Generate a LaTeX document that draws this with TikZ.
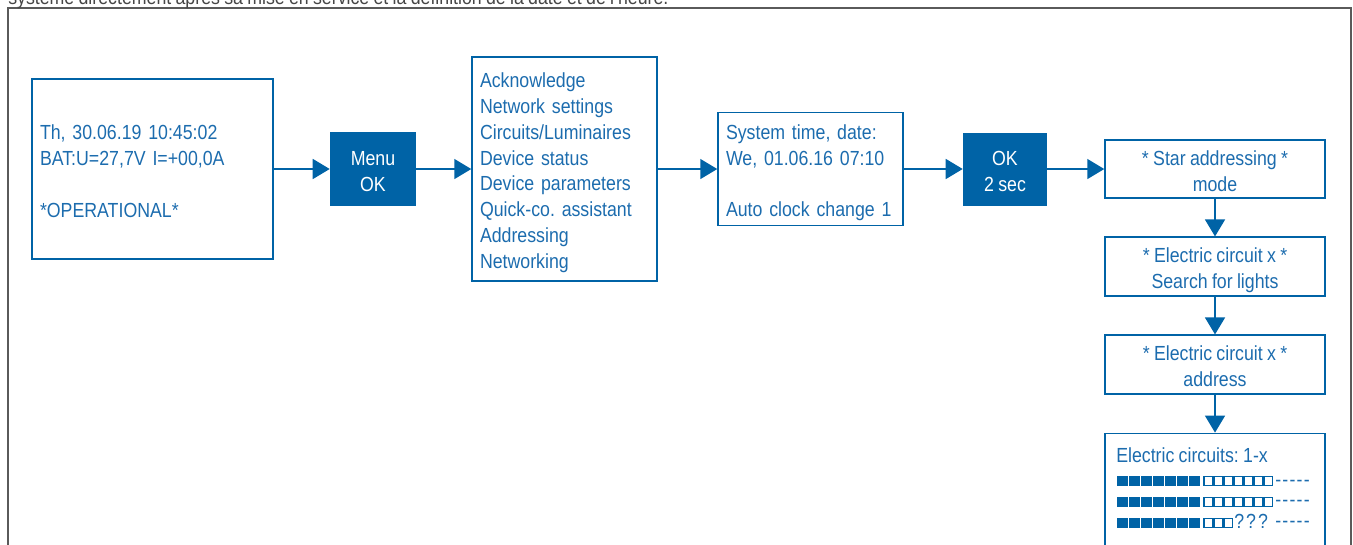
\documentclass[tikz,border=0pt]{standalone}
\usepackage{fontspec}
\setmainfont{Liberation Sans}[FakeStretch=0.87,WordSpace=0.87]
\usetikzlibrary{arrows.meta}
\definecolor{bl}{RGB}{0,99,166}
\definecolor{bltxt}{RGB}{28,108,174}
\definecolor{framegray}{RGB}{90,90,90}
\definecolor{toptxt}{RGB}{70,70,70}
\newcommand\lnst{\rule[-2.65pt]{0pt}{19.3pt}}
\newcommand\diagfont{\fontsize{15.3pt}{19.35pt}\selectfont\frenchspacing\lineskiplimit -100pt\relax}
\begin{document}
\begin{tikzpicture}[x=0.75pt,y=-0.75pt,
  every node/.style={font=\diagfont},
  txtbox/.style={draw=bl, line width=1.1pt, text=bltxt, align=left, inner xsep=6pt, inner ysep=0pt},
  flowbox/.style={draw=bl, line width=1.1pt, text=bltxt, align=center, inner sep=0pt, minimum width=165pt, minimum height=44pt},
  keybox/.style={fill=bl, text=white, align=center, inner sep=0pt},
  arr/.style={draw=bl, line width=1.1pt, -{Triangle[length=12.75pt,width=15pt]}},
  sqfull/.style={fill=bl},
  sqopen/.style={draw=bl, line width=0.8pt},
  framestyle/.style={draw=framegray, line width=0.8pt}]
\useasboundingbox (0,0) rectangle (1353,544);
% outer frame and cut-off caption
\draw[framestyle] (8,580) -- (8,8) -- (1351,8) -- (1351,580);
\node[anchor=base west, inner sep=0pt, text=toptxt] (caption) at (8,4) {système directement après sa mise en service et la définition de la date et de l’heure.};
% boxes
\node[txtbox, text width=168.75pt, minimum height=135pt] (status) at (152.5,169)
  {\lnst Th, 30.06.19 10:45:02\\\lnst BAT:U=27,7V I=+00,0A\\[19.35pt]\lnst *OPERATIONAL*};
\node[keybox, minimum width=64.5pt, minimum height=55.5pt] (menuok) at (373,169) {\lnst Menu\\\lnst OK};
\node[txtbox, text width=126.75pt, minimum height=168pt] (menu) at (564.5,169)
  {\lnst Acknowledge\\\lnst Network settings\\\lnst Circuits/Luminaires\\\lnst Device status\\\lnst Device parameters\\\lnst Quick-co. assistant\\\lnst Addressing\\\lnst Networking};
\node[txtbox, text width=126.75pt, minimum height=84.75pt] (systime) at (810.5,169)
  {\lnst System time, date:\\\lnst We, 01.06.16 07:10\\[19.35pt]\lnst Auto clock change 1};
\node[keybox, minimum width=63pt, minimum height=54.75pt] (ok2) at (1005,169) {\lnst OK\\\lnst 2 sec};
\node[flowbox, minimum height=43.5pt] (star) at (1215,169) {\lnst * Star addressing *\\\lnst mode};
\node[flowbox] (search) at (1215,266.5) {\lnst * Electric circuit x *\\\lnst Search for lights};
\node[flowbox] (address) at (1215,364.5) {\lnst * Electric circuit x *\\\lnst address};
\node[draw=bl, line width=1.1pt, minimum width=165pt, minimum height=160pt, inner sep=0pt] (circuits) at (1215,540) {};
% connectors
\draw[arr] (status) -- (menuok);
\draw[arr] (menuok) -- (menu);
\draw[arr] (menu) -- (systime);
\draw[arr] (systime) -- (ok2);
\draw[arr] (ok2) -- (star);
\draw[arr] (star) -- (search);
\draw[arr] (search) -- (address);
\draw[arr] (address) -- (circuits);
% content of the last box
\node[anchor=base west, inner sep=0pt, text=bltxt] (ectitle) at (1116,462) {Electric circuits: 1-x};
\foreach \r/\n in {476/7,497/7,518/3}{
  \foreach \i in {0,...,6}{\fill[sqfull] (1117+12*\i,\r) rectangle ++(11,10);}
  \foreach \i in {1,...,\n}{\draw[sqopen] (1194+10*\i,\r+0.5) rectangle ++(8.5,9);}
}
\node[anchor=base west, inner sep=0pt, text=bltxt] (q) at (1234,528) {\addfontfeatures{LetterSpace=10}???};
\foreach \r [count=\k] in {486,506,527}{
  \node[anchor=base west, inner sep=0pt, text=bltxt] (d\k) at (1275,\r) {\addfontfeatures{LetterSpace=6}-{}-{}-{}-{}-};
}
\end{tikzpicture}
\end{document}
